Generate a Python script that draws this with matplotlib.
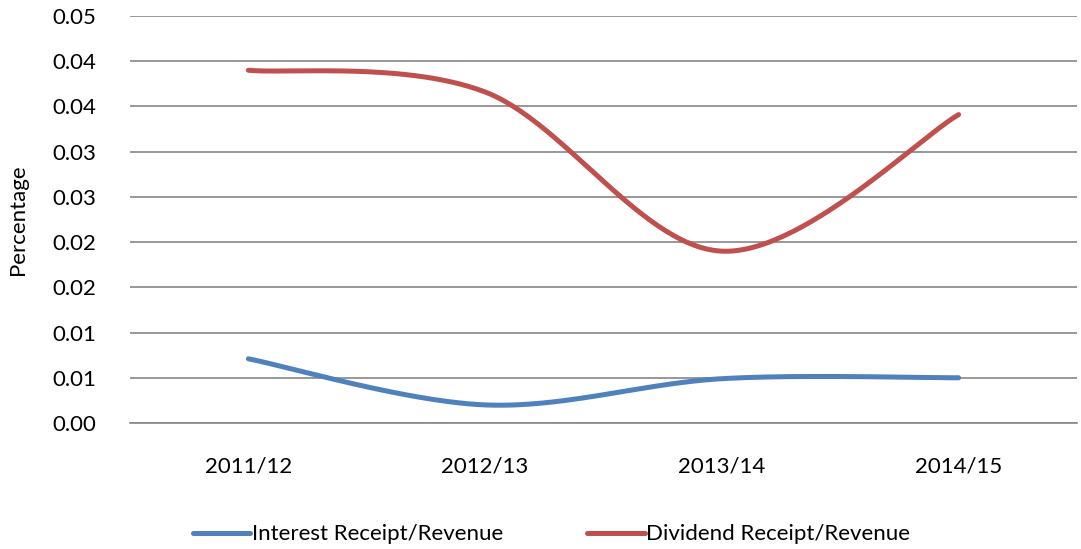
import matplotlib
matplotlib.use('Agg')
import matplotlib.pyplot as plt
import numpy as np

plt.rcParams['font.family'] = ['Lato', 'DejaVu Sans']

years = ['2011/12', '2012/13', '2013/14', '2014/15']
interest = [0.0071, 0.0020, 0.0049, 0.0050]
dividend = [0.0390, 0.0366, 0.0190, 0.0341]
ytick_vals = [0.0, 0.005, 0.01, 0.015, 0.02, 0.025, 0.03, 0.035, 0.04, 0.045]
ytick_labels = ['0.00', '0.01', '0.01', '0.02', '0.02', '0.03', '0.03', '0.04', '0.04', '0.05']


def smooth(xs, ys, n=60):
    # excel style smoothed line (bezier through the points)
    p = np.column_stack([xs, ys]).astype(float)
    pts = np.vstack([p[0], p, p[-1]])
    out = []
    for i in range(1, len(pts) - 2):
        p0, p1, p2, p3 = pts[i - 1], pts[i], pts[i + 1], pts[i + 2]
        c1 = p1 + (p2 - p0) / 6.0
        c2 = p2 - (p3 - p1) / 6.0
        t = np.linspace(0, 1, n)[:, None]
        seg = ((1 - t) ** 3) * p1 + 3 * ((1 - t) ** 2) * t * c1 + 3 * (1 - t) * t ** 2 * c2 + t ** 3 * p2
        out.append(seg)
    out = np.vstack(out)
    return out[:, 0], out[:, 1]


fig = plt.figure(figsize=(10.81, 5.49), dpi=100)
ax = fig.add_axes([130 / 1081, 1 - 423 / 549, 947 / 1081, 407 / 549])

x = np.arange(len(years))
sx, sy = smooth(x, interest)
ax.plot(sx, sy, color='#4F81BD', lw=3.6, solid_capstyle='round', label='Interest Receipt/Revenue')
sx, sy = smooth(x, dividend)
ax.plot(sx, sy, color='#C0504D', lw=3.6, solid_capstyle='round', label='Dividend Receipt/Revenue')

ax.set_xlim(-0.5, 3.5)
ax.set_ylim(0, 0.045)
ax.set_yticks(ytick_vals)
ax.set_yticklabels(ytick_labels)
ax.set_xticks(x)
ax.set_xticklabels(years)
ax.yaxis.grid(True, color='#868686', lw=1.2)
ax.set_axisbelow(True)
for s in ['top', 'right', 'left']:
    ax.spines[s].set_visible(False)
ax.spines['bottom'].set_color('#868686')
ax.spines['bottom'].set_linewidth(1.2)
ax.tick_params(axis='both', length=0, labelsize=16)
ax.tick_params(axis='y', pad=24)
ax.tick_params(axis='x', pad=24)
ax.set_ylabel('Percentage', fontsize=16, labelpad=18)

ax.legend(loc='upper center', bbox_to_anchor=(0.445, -0.2), ncol=2, frameon=False,
          fontsize=16, handlelength=2.6, handletextpad=0.05, columnspacing=3.8)

fig.savefig('out.png', dpi=100)
